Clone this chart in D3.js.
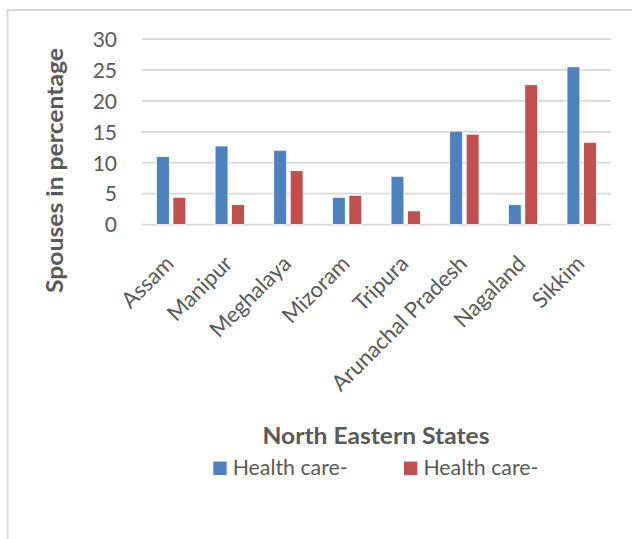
<!DOCTYPE html>
<html>
<head>
<meta charset="utf-8">
<script src="https://cdn.jsdelivr.net/npm/d3@7/dist/d3.min.js"></script>
<style>
  html, body { margin: 0; padding: 0; background: #fff; }
  svg { display: block; }
  text { font-family: Lato, "Open Sans", sans-serif; fill: #595959; }
</style>
</head>
<body>
<svg id="chart" width="632" height="539"></svg>
<script>
const categories = ["Assam", "Manipur", "Meghalaya", "Mizoram", "Tripura", "Arunachal Pradesh", "Nagaland", "Sikkim"];
const seriesNames = ["Health care-", "Health care-"];
const seriesColors = ["#4f81bd", "#c0504d"];
const series1 = [11.0, 12.7, 12.0, 4.4, 7.8, 15.1, 3.2, 25.5];
const series2 = [4.4, 3.2, 8.7, 4.7, 2.2, 14.6, 22.6, 13.3];
const yTicks = [0, 5, 10, 15, 20, 25, 30];
const xTitle = "North Eastern States";
const yTitle = "Spouses in percentage";

const seriesValues = [series1, series2];
const svg = d3.select("#chart");

// chart border (top and left visible)
svg.append("rect")
  .attr("x", 7.5).attr("y", 10).attr("width", 800).attr("height", 800)
  .attr("fill", "none").attr("stroke", "#d9d9d9").attr("stroke-width", 2);

const plot = { left: 141.8, right: 611, top: 39, bottom: 224.5 };

const y = d3.scaleLinear().domain([0, 30]).range([plot.bottom, plot.top]);
const x0 = d3.scaleBand().domain(categories).range([plot.left, plot.right])
  .paddingInner(0.5).paddingOuter(0.25);
const x1 = d3.scaleBand().domain(d3.range(seriesValues.length)).range([0, x0.bandwidth()])
  .paddingInner(0.22);

// gridlines
svg.append("g").selectAll("line").data(yTicks).join("line")
  .attr("x1", plot.left).attr("x2", plot.right)
  .attr("y1", d => y(d)).attr("y2", d => y(d))
  .attr("stroke", "#d9d9d9").attr("stroke-width", 1.75);

// y axis labels
const yAxis = d3.axisLeft(y).tickValues(yTicks).tickSize(0).tickPadding(0);
const gy = svg.append("g").attr("transform", `translate(117,0)`).call(yAxis);
gy.select(".domain").remove();
gy.selectAll("text").attr("font-size", 21).style("font-family", "Lato").attr("fill", "#595959").attr("dy", "0.35em");

// bars
const groups = svg.append("g").selectAll("g").data(categories).join("g")
  .attr("transform", d => `translate(${x0(d)},0)`);
groups.selectAll("rect").data((d, i) => seriesValues.map((s, k) => ({ k, v: s[i] })))
  .join("rect")
  .attr("x", d => x1(d.k))
  .attr("width", x1.bandwidth())
  .attr("y", d => y(d.v))
  .attr("height", d => y(0) - y(d.v))
  .attr("fill", d => seriesColors[d.k])
  .attr("stroke", "#fff").attr("stroke-width", 0.75);

// x labels (rotated -45), anchored near each category centre
svg.append("g").selectAll("text").data(categories).join("text")
  .attr("transform", d => `translate(${x0(d) + x0.bandwidth() / 2 + 4},265) rotate(-45)`)
  .attr("text-anchor", "end")
  .attr("font-size", 22)
  .text(d => d);

// y title
svg.append("text")
  .attr("transform", `translate(63,170.5) rotate(-90)`)
  .attr("text-anchor", "middle")
  .attr("font-size", 23).attr("font-weight", "bold")
  .attr("textLength", 245).attr("lengthAdjust", "spacingAndGlyphs")
  .text(yTitle);

// x title
svg.append("text")
  .attr("x", 376).attr("y", 444.3)
  .attr("text-anchor", "middle")
  .attr("font-size", 22).attr("font-weight", "bold")
  .attr("textLength", 227).attr("lengthAdjust", "spacingAndGlyphs")
  .text(xTitle);

// legend
const legendX = [213.3, 404];
const lg = svg.append("g").selectAll("g").data(seriesNames).join("g")
  .attr("transform", (d, i) => `translate(${legendX[i]},461.5)`);
lg.append("rect").attr("width", 13.3).attr("height", 13.5).attr("fill", (d, i) => seriesColors[i]);
lg.append("text").attr("x", 19.4).attr("y", 13.5).attr("font-size", 21)
  .attr("textLength", 115).attr("lengthAdjust", "spacingAndGlyphs")
  .text(d => d);
</script>
</body>
</html>
